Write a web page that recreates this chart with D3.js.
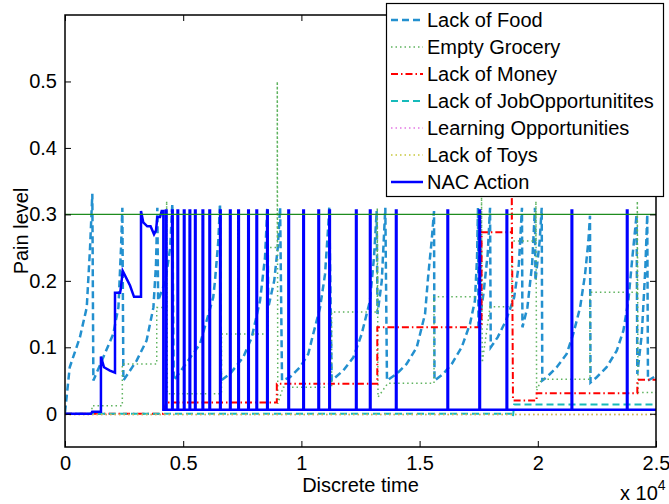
<!DOCTYPE html>
<html>
<head>
<meta charset="utf-8">
<script src="https://cdn.jsdelivr.net/npm/d3@7"></script>
<style>
  body { margin: 0; background: #fff; }
  svg { display: block; font-family: "Liberation Sans", Arial, Helvetica, sans-serif; }
</style>
</head>
<body>
<div id="chart"></div>
<script>
// series values: [discrete time, pain level]
const lackOfFood = [
  [0, 0.002], [200, 0.07], [630, 0.115], [920, 0.16], [1060, 0.25], [1156, 0.331], [1200, 0.05],
  [1620, 0.085], [2040, 0.12], [2260, 0.16], [2370, 0.25], [2426, 0.31], [2470, 0.05],
  [3030, 0.08], [3450, 0.11], [3740, 0.16], [3850, 0.225], [3906, 0.31], [3940, 0.17],
  [4250, 0.2], [4450, 0.25], [4540, 0.316], [4600, 0.05],
  [5150, 0.077], [5710, 0.105], [5990, 0.14], [6270, 0.175], [6345, 0.2], [6485, 0.26], [6557, 0.316], [6600, 0.05],
  [6980, 0.06], [7540, 0.085], [7900, 0.115], [8250, 0.17], [8460, 0.235], [8560, 0.31], [8600, 0.16],
  [8850, 0.2], [9000, 0.25], [9100, 0.31], [9180, 0.05],
  [9520, 0.055], [9940, 0.07], [10290, 0.09], [10500, 0.12], [10790, 0.16], [11000, 0.21], [11140, 0.285], [11180, 0.312], [11280, 0.05],
  [11770, 0.065], [12200, 0.085], [12550, 0.12], [12900, 0.17], [13070, 0.235], [13184, 0.305], [13220, 0.15],
  [13400, 0.2], [13550, 0.31], [13620, 0.05],
  [14030, 0.06], [14450, 0.075], [14880, 0.1], [15230, 0.15], [15370, 0.21], [15510, 0.26], [15610, 0.305], [15630, 0.05],
  [16000, 0.06], [16360, 0.075], [16780, 0.1], [17130, 0.135], [17340, 0.17], [17430, 0.235], [17470, 0.31], [17490, 0.13],
  [17700, 0.18], [17880, 0.24], [17980, 0.31], [18010, 0.1], [18300, 0.115], [18650, 0.14], [19000, 0.175],
  [19200, 0.225], [19330, 0.31], [19350, 0.13], [19560, 0.16], [19760, 0.225], [19880, 0.31], [19900, 0.2],
  [20080, 0.26], [20165, 0.31], [20190, 0.05],
  [20375, 0.055], [20800, 0.07], [21220, 0.09], [21500, 0.12], [21790, 0.16], [22000, 0.21], [22140, 0.26], [22207, 0.298], [22230, 0.047],
  [22490, 0.055], [22910, 0.07], [23340, 0.095], [23620, 0.125], [23830, 0.17], [24000, 0.235], [24180, 0.3], [24210, 0.06],
  [24400, 0.12], [24550, 0.22], [24630, 0.3], [24660, 0.05], [25000, 0.057]
];

const emptyGrocery = [
  [0, 0], [1140, 0], [1140, 0.012], [2425, 0.012], [2425, 0.075], [3880, 0.075], [3880, 0.16],
  [4300, 0.16], [4300, 0.32], [4330, 0.03], [6620, 0.03], [6620, 0.12], [8590, 0.12], [8590, 0.25],
  [8980, 0.25], [8980, 0.5], [9000, 0.015], [9230, 0.04], [11280, 0.04], [11280, 0.153], [13210, 0.153],
  [13210, 0.31], [13240, 0.025], [13660, 0.046], [15610, 0.046], [15610, 0.176], [17620, 0.176],
  [17620, 0.326], [17650, 0.077], [17980, 0.161], [18900, 0.161], [18900, 0.26], [19920, 0.26],
  [19920, 0.32], [19950, 0.035], [20160, 0.052], [22207, 0.052], [22207, 0.183], [24210, 0.183],
  [24210, 0.32], [24240, 0.032], [25000, 0.032]
];

const lackOfMoney = [
  [0, 0], [4150, 0], [4150, 0.005], [4300, 0.017], [8960, 0.017], [8960, 0.045], [13210, 0.045],
  [13210, 0.13], [17620, 0.13], [17620, 0.273], [18900, 0.273], [18900, 0.33], [18950, 0.02],
  [19950, 0.02], [19950, 0.031], [24210, 0.031], [24210, 0.051], [25000, 0.051]
];

const lackOfJobs = [[0, 0], [18950, 0], [18950, -0.004], [19000, 0.014], [25000, 0.014]];
const learningOpp = [[0, -0.001], [25000, -0.001]];
const lackOfToys = [[0, -0.001], [25000, -0.001]];

const nacRamp = [
  [0, 0], [1100, 0], [1150, 0.003], [1520, 0.003], [1520, 0.086], [1650, 0.07], [1900, 0.065],
  [2115, 0.062], [2115, 0.182], [2330, 0.182], [2360, 0.188], [2440, 0.215], [2610, 0.203],
  [2750, 0.193], [2920, 0.176], [3215, 0.176], [3215, 0.305], [3310, 0.288], [3480, 0.282],
  [3620, 0.282], [3765, 0.27], [3850, 0.276], [3906, 0.296], [4020, 0.296], [4090, 0.305],
  [4160, 0.305], [4160, 0.006]
];
const nacSpikeTimes = [4270, 4530, 4760, 5030, 5270, 5500, 5820, 6110, 6560, 6980, 7330, 7750, 8100,
  8550, 9450, 10080, 10720, 11180, 12310, 12900, 14000, 16180, 17530, 18680, 21430, 23770];
const nacBase = 0.006, nacPeak = 0.306, nacPulse = 25, tEnd = 25000;

const threshold = 0.3;

const seriesNames = ["Lack of Food", "Empty Grocery", "Lack of Money", "Lack of JobOpportunitites",
  "Learning Opportunities", "Lack of Toys", "NAC Action"];
const xTicks = [0, 5000, 10000, 15000, 20000, 25000];
const xTickLabels = ["0", "0.5", "1", "1.5", "2", "2.5"];
const yTicks = [0, 0.1, 0.2, 0.3, 0.4, 0.5];
const yTickLabels = ["0", "0.1", "0.2", "0.3", "0.4", "0.5"];

// NAC spikes: narrow pulses from the baseline
let nacAction = nacRamp.slice();
nacSpikeTimes.forEach(function(t) {
  nacAction.push([t, nacBase], [t, nacPeak], [t + nacPulse, nacPeak], [t + nacPulse, nacBase]);
});
nacAction.push([tEnd, nacBase]);

const styles = [
  {color: "#2390cf", width: 2.5, dash: "7,4"},
  {color: "#5fb35f", width: 1.5, dash: "1.5,3"},
  {color: "#ff0000", width: 2, dash: "7,3,1.5,3"},
  {color: "#16baba", width: 2, dash: "7,4"},
  {color: "#e377e3", width: 1.5, dash: "1.5,3"},
  {color: "#c8c83c", width: 1.5, dash: "1.5,3"},
  {color: "#0000ff", width: 2.5, dash: null}
];
const allSeries = [lackOfFood, emptyGrocery, lackOfMoney, lackOfJobs, learningOpp, lackOfToys, nacAction];

const width = 669, height = 504;
const plot = {left: 65, right: 656, top: 15, bottom: 447};

let svg = d3.select("#chart").append("svg")
  .attr("width", width).attr("height", height);

let x = d3.scaleLinear().domain([0, 25000]).range([plot.left, plot.right]);
let y = d3.scaleLinear().domain([-0.05, 0.6]).range([plot.bottom, plot.top]);

svg.append("clipPath").attr("id", "clip")
  .append("rect")
  .attr("x", plot.left).attr("y", plot.top)
  .attr("width", plot.right - plot.left).attr("height", plot.bottom - plot.top);

let line = d3.line()
  .x(function(d) { return x(d[0]); })
  .y(function(d) { return y(d[1]); });

let lines = svg.append("g").attr("clip-path", "url(#clip)");

allSeries.forEach(function(s, i) {
  lines.append("path")
    .datum(s)
    .attr("d", line)
    .attr("fill", "none")
    .attr("stroke", styles[i].color)
    .attr("stroke-width", styles[i].width)
    .attr("stroke-dasharray", styles[i].dash)
    .attr("stroke-linejoin", "miter");
});

// threshold line
lines.append("line")
  .attr("x1", x(0)).attr("x2", x(25000))
  .attr("y1", y(threshold)).attr("y2", y(threshold))
  .attr("stroke", "#1e8c1e").attr("stroke-width", 1.2);

// axes box with inward ticks on all sides (matlab style)
const tickLen = 6;
svg.append("g")
  .attr("transform", `translate(0, ${plot.bottom})`)
  .call(d3.axisBottom(x).tickValues(xTicks).tickSize(-tickLen).tickPadding(9)
    .tickFormat(function(d, i) { return xTickLabels[i]; }));
svg.append("g")
  .attr("transform", `translate(0, ${plot.top})`)
  .call(d3.axisTop(x).tickValues(xTicks).tickSize(-tickLen).tickFormat(""));
svg.append("g")
  .attr("transform", `translate(${plot.left}, 0)`)
  .call(d3.axisLeft(y).tickValues(yTicks).tickSize(-tickLen).tickPadding(8)
    .tickFormat(function(d, i) { return yTickLabels[i]; }));
svg.append("g")
  .attr("transform", `translate(${plot.right}, 0)`)
  .call(d3.axisRight(y).tickValues(yTicks).tickSize(-tickLen).tickFormat(""));

svg.selectAll(".domain").remove();
svg.selectAll(".tick line").attr("stroke", "#000").attr("stroke-width", 1);
svg.selectAll(".tick text")
  .style("font-size", "20px")
  .style("font-family", "'Liberation Sans', Arial, Helvetica, sans-serif")
  .attr("fill", "#000");

svg.append("rect")
  .attr("x", plot.left).attr("y", plot.top)
  .attr("width", plot.right - plot.left).attr("height", plot.bottom - plot.top)
  .attr("fill", "none").attr("stroke", "#000").attr("stroke-width", 1.5);

// axis labels
svg.append("text")
  .attr("x", (plot.left + plot.right) / 2).attr("y", 492)
  .attr("text-anchor", "middle")
  .style("font-size", "20px")
  .text("Discrete time");

svg.append("text")
  .attr("transform", `translate(28, ${(plot.top + plot.bottom) / 2}) rotate(-90)`)
  .attr("text-anchor", "middle")
  .style("font-size", "20px")
  .text("Pain level");

let expo = svg.append("text")
  .attr("x", 620).attr("y", 500)
  .style("font-size", "20px");
expo.append("tspan").text("x 10");
expo.append("tspan").attr("dy", -10).style("font-size", "14px").text("4");

// legend
let legend = svg.append("g");
legend.append("rect")
  .attr("x", 386.5).attr("y", 3.5).attr("width", 277).attr("height", 193)
  .attr("fill", "#fff").attr("stroke", "#000").attr("stroke-width", 1.2);

seriesNames.forEach(function(name, i) {
  let cy = 20 + i * 27;
  legend.append("line")
    .attr("x1", 391).attr("x2", 423)
    .attr("y1", cy).attr("y2", cy)
    .attr("stroke", styles[i].color)
    .attr("stroke-width", styles[i].width)
    .attr("stroke-dasharray", styles[i].dash);
  legend.append("text")
    .attr("x", 427).attr("y", cy)
    .attr("dy", "0.36em")
    .style("font-size", "20px")
    .text(name);
});
</script>
</body>
</html>
